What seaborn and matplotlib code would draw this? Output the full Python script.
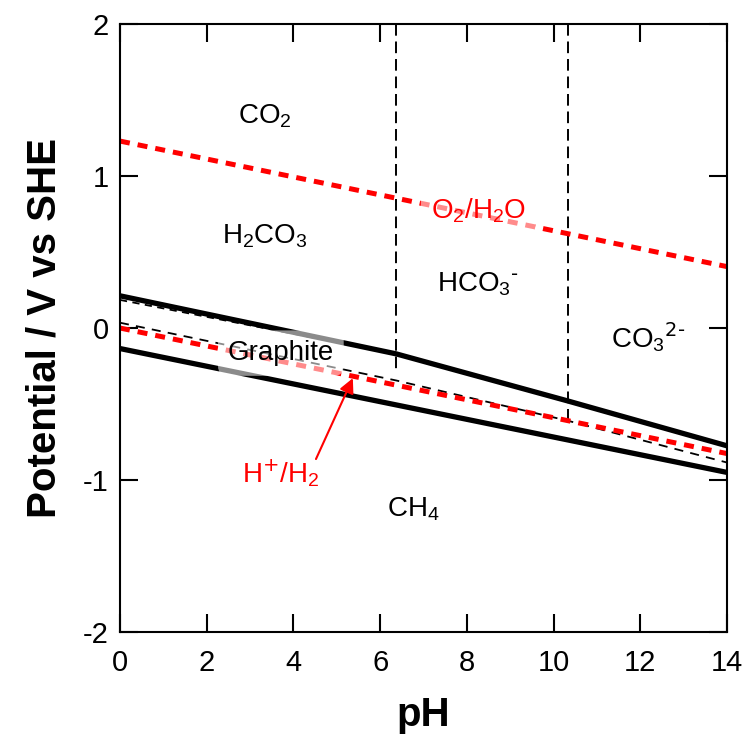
import matplotlib
matplotlib.use("Agg")
import matplotlib.pyplot as plt
import seaborn as sns
import pandas as pd

# Water stability lines (V vs SHE)
ph_o2 = [0, 14]
e_o2 = [1.23, 0.404]
ph_h2 = [0, 14]
e_h2 = [0.0, -0.826]

# Graphite stability boundaries
ph_c_upper = [0, 6.37, 10.33, 14]
e_c_upper = [0.212, -0.17, -0.48, -0.775]
ph_c_lower = [0, 14]
e_c_lower = [-0.135, -0.95]
ph_co2_c = [0, 6.37]
e_co2_c = [0.185, -0.17]

# Carbon(IV) / methane equilibrium
ph_ch4 = [0, 6.37, 10.33, 14]
e_ch4 = [0.035, -0.345, -0.61, -0.885]

# Carbonate speciation boundaries (pKa values)
pka = [6.37, 10.33]
pka_bottom = [-0.30, -0.61]

sns.set_style("ticks")
plt.rcParams["font.family"] = ["Liberation Sans", "DejaVu Sans"]
plt.rcParams["mathtext.default"] = "regular"
plt.rcParams["text.color"] = "black"
plt.rcParams["axes.labelcolor"] = "black"
plt.rcParams["xtick.color"] = "black"
plt.rcParams["ytick.color"] = "black"

fig = plt.figure(figsize=(7.48, 7.44), dpi=100)
ax = fig.add_axes([0.1604, 0.1505, 0.8116, 0.8172])


def draw(x, y, **kw):
    df = pd.DataFrame({"pH": x, "E": y})
    sns.lineplot(data=df, x="pH", y="E", ax=ax, estimator=None, sort=False, **kw)


draw(ph_c_upper, e_c_upper, color="black", linewidth=3.8, zorder=3)
draw(ph_c_lower, e_c_lower, color="black", linewidth=3.8, zorder=3)
draw(ph_co2_c, e_co2_c, color="black", linewidth=1.3, dashes=(4, 3), zorder=2)
draw(ph_ch4, e_ch4, color="black", linewidth=1.3, dashes=(5, 4), zorder=2)
draw(ph_o2, e_o2, color="#ff0000", linewidth=3.6, dashes=(2, 1.6), zorder=2.5)
draw(ph_h2, e_h2, color="#ff0000", linewidth=3.6, dashes=(2, 1.6), zorder=2.5)

for p, b in zip(pka, pka_bottom):
    draw([p, p], [2, b], color="black", linewidth=1.4, dashes=(6, 3), zorder=2)

label_kw = dict(fontsize=20, ha="center", va="center", zorder=5)
box_kw = dict(boxstyle="round,pad=0.35", fc="white", ec="none", alpha=0.55)
ax.text(3.34, 1.395, "CO$_2$", **label_kw)
ax.text(3.34, 0.605, "H$_2$CO$_3$", **label_kw)
ax.text(8.26, 0.29, r"HCO$_3$$^{\text{-}}$", **label_kw)
ax.text(12.18, -0.06, r"CO$_3$$^{\text{2-}}$", **label_kw)
ax.text(6.76, -1.19, "CH$_4$", **label_kw)
ax.text(3.71, -0.165, "Graphite", bbox=box_kw, **label_kw)
ax.text(8.26, 0.77, "O$_2$/H$_2$O", color="#ff0000", bbox=box_kw, **label_kw)
ax.text(3.71, -0.954, r"H$^{\text{+}}$/H$_2$", color="#ff0000", **label_kw)
ax.annotate("", xy=(5.37, -0.33), xytext=(4.52, -0.862),
            arrowprops=dict(arrowstyle="-|>", color="#ff0000", lw=1.5,
                            mutation_scale=22, shrinkA=0, shrinkB=0),
            zorder=5)

ax.set_xlim(0, 14)
ax.set_ylim(-2, 2)
ax.set_xticks(range(0, 15, 2))
ax.set_yticks([-2, -1, 0, 1, 2])
ax.set_yticklabels(["-2", "-1", "0", "1", "2"])
ax.tick_params(direction="in", length=13, width=1.5, labelsize=21,
               top=True, right=True, color="black")
ax.tick_params(axis="x", pad=12)
ax.tick_params(axis="y", pad=8)
for s in ax.spines.values():
    s.set_linewidth(1.5)
    s.set_color("black")

ax.set_xlabel("pH", fontsize=29, fontweight="bold", labelpad=14)
ax.set_ylabel("Potential / V vs SHE", fontsize=29, fontweight="bold", labelpad=14)

fig.savefig("out.png", dpi=100)
